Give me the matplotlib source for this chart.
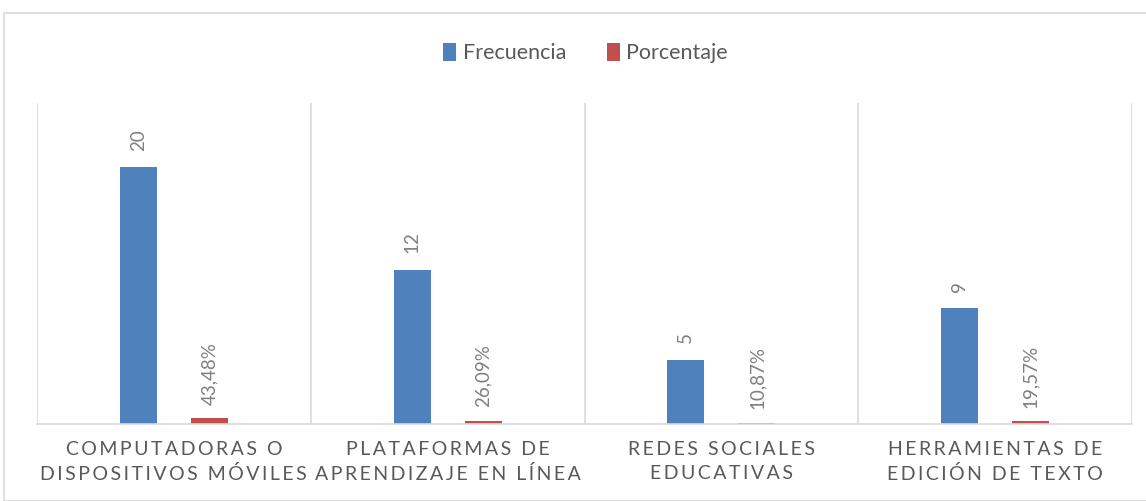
import matplotlib.pyplot as plt
from matplotlib.patches import Rectangle
import numpy as np

categories = [
    "COMPUTADORAS O\nDISPOSITIVOS MÓVILES",
    "PLATAFORMAS DE\nAPRENDIZAJE EN LÍNEA",
    "REDES SOCIALES\nEDUCATIVAS",
    "HERRAMIENTAS DE\nEDICIÓN DE TEXTO",
]
frecuencia = [20, 12, 5, 9]
porcentaje = [0.4348, 0.2609, 0.1087, 0.1957]
porcentaje_labels = ["43,48%", "26,09%", "10,87%", "19,57%"]

BLUE = "#4f81bd"
RED = "#c0504d"
GRID = "#d9d9d9"
TEXT = "#595959"
LABEL = "#7f7f7f"

plt.rcParams["font.family"] = ["Lato", "DejaVu Sans"]


def spaced(s):
    # emulate letter spacing with thin spaces
    lines = []
    for line in s.split("\n"):
        words = ["\u2009".join(w) for w in line.split(" ")]
        lines.append("\u2009 \u2009".join(words))
    return "\n".join(lines)


fig = plt.figure(figsize=(11.46, 5.01), dpi=100)
fig.patches.append(Rectangle((4 / 1146, 0), 1.0, 1 - 13 / 501, transform=fig.transFigure,
                             fill=False, edgecolor=GRID, linewidth=1.2))
ax = fig.add_axes([37 / 1146, 77 / 501, 1095 / 1146, 321 / 501])

x = np.arange(len(categories))
w = 0.135
off = 0.13
b1 = ax.bar(x - off, frecuencia, w, color=BLUE, label="Frecuencia")
b2 = ax.bar(x + off, porcentaje, w, color=RED, label="Porcentaje")

for rect, v in zip(b1, frecuencia):
    ax.annotate(str(v), (rect.get_x() + rect.get_width() / 2, rect.get_height()),
                xytext=(0, 12), textcoords="offset points", rotation=90,
                ha="center", va="bottom", fontsize=13.5, color=LABEL)
for rect, lab in zip(b2, porcentaje_labels):
    ax.annotate(lab, (rect.get_x() + rect.get_width() / 2, rect.get_height()),
                xytext=(0, 10), textcoords="offset points", rotation=90,
                ha="center", va="bottom", fontsize=13.5, color=LABEL)

ax.set_xlim(-0.5, len(categories) - 0.5)
ax.set_ylim(0, 25)
for b in np.arange(-0.5, len(categories), 1.0):
    ax.axvline(b, color=GRID, linewidth=1.2, zorder=0)

for s in ["top", "right", "left"]:
    ax.spines[s].set_visible(False)
ax.spines["bottom"].set_color(GRID)
ax.spines["bottom"].set_linewidth(1.2)
ax.set_yticks([])
ax.set_xticks(x)
ax.set_xticklabels([spaced(c) for c in categories], fontsize=14, color=TEXT,
                   linespacing=1.45)
ax.tick_params(axis="x", length=0, pad=12.5)

fig.legend(handles=[b1, b2], loc="center", bbox_to_anchor=(0.511, 1 - 53 / 501),
           ncol=2, frameon=False, fontsize=15.5, handlelength=0.6, handleheight=0.9,
           handletextpad=0.3, columnspacing=1.9, labelcolor=TEXT)

fig.savefig("out.png", dpi=100)
